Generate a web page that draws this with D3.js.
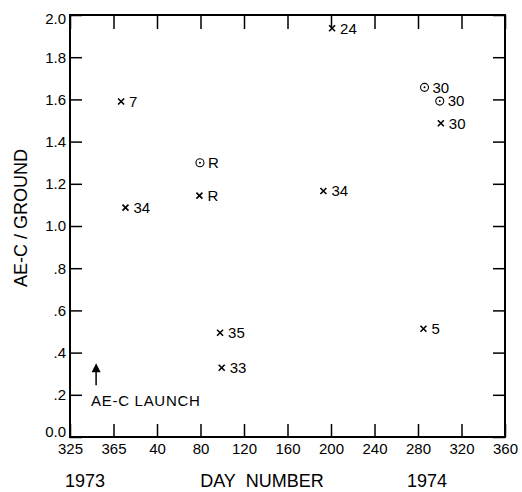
<!DOCTYPE html>
<html>
<head>
<meta charset="utf-8">
<script src="https://cdn.jsdelivr.net/npm/d3@7"></script>
<style>
  body { margin: 0; background: #fff; }
  svg { display: block; }
  text { font-family: "Liberation Sans", Arial, sans-serif; fill: #000; }
</style>
</head>
<body>
<div id="chart"></div>
<script>
// data (day number of 1974, ratio AE-C / ground)
let pointDay    = [7,    11,    79.5, 79,    201,   286,   300,   301,   193,   98,    99.5,  285];
let pointRatio  = [1.59, 1.087, 1.30, 1.144, 1.937, 1.657, 1.592, 1.487, 1.166, 0.494, 0.328, 0.513];
let pointMarker = ["x",  "x",   "o",  "x",   "x",   "o",   "o",   "x",   "x",   "x",   "x",   "x"];
let pointLabel  = ["7",  "34",  "R",  "R",   "24",  "30",  "30",  "30",  "34",  "35",  "33",  "5"];

// launch of AE-C, day of 1973
let launchDay = 349;
let launchArrow = [0.245, 0.35];

let xTicks = [325, 365, 405, 445, 485, 525, 565, 605, 645, 685, 725];
let yTicks = [0, 0.2, 0.4, 0.6, 0.8, 1.0, 1.2, 1.4, 1.6, 1.8, 2.0];

let svgwidth = 522;
let svgheight = 492;

let margin = { top: 15, right: 17, bottom: 55, left: 70 };
let width = svgwidth - margin.left - margin.right;
let height = svgheight - margin.top - margin.bottom;

let svg = d3.select("#chart")
    .append("svg")
    .attr("width", svgwidth)
    .attr("height", svgheight);

let chartgroup = svg.append("g")
    .attr("transform", `translate(${margin.left}, ${margin.top})`);

// continuous day count from start of 1973
let xScale = d3.scaleLinear().domain([325, 725]).range([0, width]);
let yScale = d3.scaleLinear().domain([0, 2]).range([height, 0]);

let xFormat = d => String(d > 365 ? d - 365 : d);
let yFormat = d => (d >= 1 || d === 0) ? d.toFixed(1) : d.toFixed(1).slice(1);

function styleAxis(g) {
    g.select(".domain").remove();
    g.selectAll(".tick line").attr("stroke", "#000").attr("stroke-width", 1.5);
    g.selectAll(".tick text").style("font-size", "15px").attr("fill", "#000");
}

chartgroup.append("g")
    .attr("transform", `translate(0, ${height})`)
    .call(d3.axisBottom(xScale).tickValues(xTicks).tickFormat(xFormat)
        .tickSizeInner(-13).tickSizeOuter(0).tickPadding(6))
    .call(styleAxis);

chartgroup.append("g")
    .call(d3.axisTop(xScale).tickValues(xTicks).tickFormat("")
        .tickSizeInner(-14).tickSizeOuter(0))
    .call(styleAxis);

let yAxis = chartgroup.append("g")
    .call(d3.axisLeft(yScale).tickValues(yTicks).tickFormat(yFormat)
        .tickSizeInner(-12).tickSizeOuter(0).tickPadding(4))
    .call(styleAxis);

// end labels sit inside the frame, as in the original
yAxis.selectAll(".tick text")
    .attr("dy", d => d === 0 ? "-0.02em" : d === 2 ? "0.55em" : "0.32em");

chartgroup.append("g")
    .attr("transform", `translate(${width}, 0)`)
    .call(d3.axisRight(yScale).tickValues(yTicks).tickFormat("")
        .tickSizeInner(-12).tickSizeOuter(0))
    .call(styleAxis);

svg.selectAll(".tick text").attr("font-family", null);

// frame
chartgroup.append("rect")
    .attr("x", 0)
    .attr("y", 0)
    .attr("width", width)
    .attr("height", height)
    .attr("fill", "none")
    .attr("stroke", "#000")
    .attr("stroke-width", 2);

let points = pointDay.map((d, i) => ({
    x: 365 + d,
    y: pointRatio[i],
    marker: pointMarker[i],
    label: pointLabel[i]
}));

let pointsGroup = chartgroup.selectAll("g.pt")
    .data(points)
    .enter()
    .append("g")
    .attr("class", "pt")
    .attr("transform", d => `translate(${xScale(d.x)}, ${yScale(d.y)})`);

pointsGroup.filter(d => d.marker === "x")
    .append("path")
    .attr("d", "M-3,-3L3,3M3,-3L-3,3")
    .attr("stroke", "#000")
    .attr("stroke-width", 1.6);

let circled = pointsGroup.filter(d => d.marker === "o");
circled.append("circle")
    .attr("r", 4)
    .attr("fill", "none")
    .attr("stroke", "#000")
    .attr("stroke-width", 1.1);
circled.append("circle")
    .attr("r", 1)
    .attr("fill", "#000");

pointsGroup.append("text")
    .attr("x", 8)
    .attr("y", 0)
    .attr("dy", "0.36em")
    .style("font-size", "15px")
    .text(d => d.label);

// launch arrow
let ax = xScale(launchDay);
chartgroup.append("line")
    .attr("x1", ax)
    .attr("x2", ax)
    .attr("y1", yScale(launchArrow[0]))
    .attr("y2", yScale(launchArrow[1]) + 6)
    .attr("stroke", "#000")
    .attr("stroke-width", 1.5);

chartgroup.append("path")
    .attr("d", `M${ax},${yScale(launchArrow[1])}l-4.5,9h9z`)
    .attr("fill", "#000");

chartgroup.append("text")
    .attr("x", ax - 5)
    .attr("y", yScale(0.171))
    .attr("dy", "0.36em")
    .style("font-size", "15px")
    .style("letter-spacing", "0.7px")
    .text("AE-C LAUNCH");

// axis titles
svg.append("text")
    .attr("transform", "translate(27, 218) rotate(-90)")
    .attr("text-anchor", "middle")
    .style("font-size", "18px")
    .text("AE-C / GROUND");

svg.append("text")
    .attr("x", 85)
    .attr("y", 487)
    .attr("text-anchor", "middle")
    .style("font-size", "18px")
    .text("1973");

svg.append("text")
    .attr("x", 262)
    .attr("y", 487)
    .attr("text-anchor", "middle")
    .style("font-size", "18px")
    .text("DAY\u00a0\u00a0NUMBER");

svg.append("text")
    .attr("x", 427)
    .attr("y", 487)
    .attr("text-anchor", "middle")
    .style("font-size", "18px")
    .text("1974");
</script>
</body>
</html>
